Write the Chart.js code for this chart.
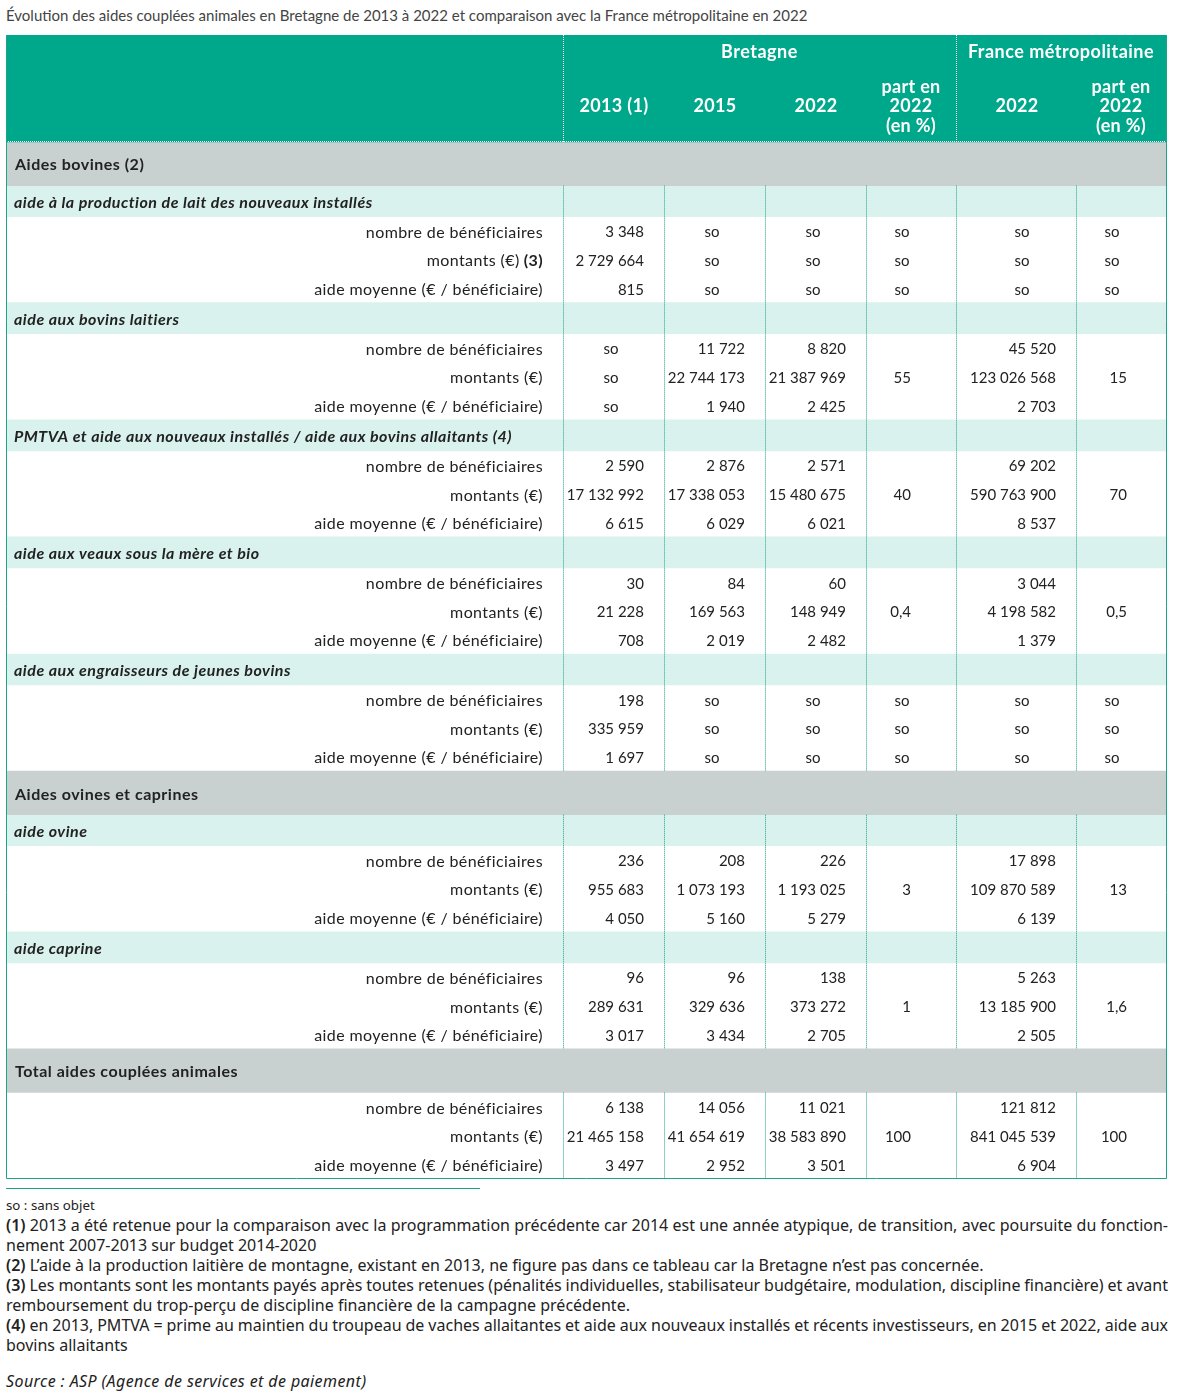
<!DOCTYPE html>
<html lang="fr">
<head>
<meta charset="utf-8">
<title>Aides couplées animales en Bretagne</title>
<script src="https://cdn.jsdelivr.net/npm/chart.js@4/dist/chart.umd.min.js"></script>
<style>
  body { margin: 0; background: #fff; width: 1183px; height: 1399px; position: relative; font-family: Lato, sans-serif; color: #222; }
  #titre { position: absolute; left: 6px; top: 5px; font-size: 15px; line-height: 20px; color: #444; white-space: nowrap; }
  #tableau { position: absolute; left: 6px; top: 35px; }
  #filet { position: absolute; left: 6px; top: 1188px; width: 474px; border-top: 1px solid #1aa58a; }
  #notes { position: absolute; left: 6px; top: 1195px; width: 1162px; font-family: "Noto Sans", sans-serif; font-size: 16px; line-height: 20px; color: #222; }
  #notes .so { font-size: 13.3px; }
  #notes .j { text-align: justify; text-align-last: justify; word-spacing: -3px; }
  #notes b { font-weight: 600; }
  #notes .source { margin-top: 16px; font-style: italic; letter-spacing: 0.4px; }
</style>
</head>
<body>
<div id="titre">Évolution des aides couplées animales en Bretagne de 2013 à 2022 et comparaison avec la France métropolitaine en 2022</div>
<canvas id="tableau" width="1161" height="1146"></canvas>
<div id="filet"></div>
<div id="notes">
  <div class="so">so : sans objet</div>
  <div class="j"><b>(1)</b> 2013 a été retenue pour la comparaison avec la programmation précédente car 2014 est une année atypique, de transition, avec poursuite du fonction-</div>
  <div>nement 2007-2013 sur budget 2014-2020</div>
  <div><b>(2)</b> L’aide à la production laitière de montagne, existant en 2013, ne figure pas dans ce tableau car la Bretagne n’est pas concernée.</div>
  <div class="j"><b>(3)</b> Les montants sont les montants payés après toutes retenues (pénalités individuelles, stabilisateur budgétaire, modulation, discipline financière) et avant</div>
  <div>remboursement du trop-perçu de discipline financière de la campagne précédente.</div>
  <div class="j"><b>(4)</b> en 2013, PMTVA = prime au maintien du troupeau de vaches allaitantes et aide aux nouveaux installés et récents investisseurs, en 2015 et 2022, aide aux</div>
  <div>bovins allaitants</div>
  <div class="source">Source : ASP (Agence de services et de paiement)</div>
</div>
<script>
// Données du tableau
const groupes = ['Bretagne', 'France métropolitaine'];
const colonnes = ['2013 (1)', '2015', '2022', 'part en\n2022\n(en %)', '2022', 'part en\n2022\n(en %)'];
const rubriques = ['Aides bovines (2)', 'Aides ovines et caprines', 'Total aides couplées animales'];
const aides = [
    'aide à la production de lait des nouveaux installés',
    'aide aux bovins laitiers',
    'PMTVA et aide aux nouveaux installés / aide aux bovins allaitants (4)',
    'aide aux veaux sous la mère et bio',
    'aide aux engraisseurs de jeunes bovins',
    'aide ovine',
    'aide caprine'
];
const mesures = ['nombre de bénéficiaires', 'montants (€)', 'aide moyenne (€ / bénéficiaire)'];

// 'so' = sans objet, null = case vide (3 lignes par aide, puis le total)
const bzh2013 = [3348, 2729664, 815, 'so', 'so', 'so', 2590, 17132992, 6615, 30, 21228, 708, 198, 335959, 1697, 236, 955683, 4050, 96, 289631, 3017, 6138, 21465158, 3497];
const bzh2015 = ['so', 'so', 'so', 11722, 22744173, 1940, 2876, 17338053, 6029, 84, 169563, 2019, 'so', 'so', 'so', 208, 1073193, 5160, 96, 329636, 3434, 14056, 41654619, 2952];
const bzh2022 = ['so', 'so', 'so', 8820, 21387969, 2425, 2571, 15480675, 6021, 60, 148949, 2482, 'so', 'so', 'so', 226, 1193025, 5279, 138, 373272, 2705, 11021, 38583890, 3501];
const bzhPart = ['so', 'so', 'so', null, 55, null, null, 40, null, null, 0.4, null, 'so', 'so', 'so', null, 3, null, null, 1, null, null, 100, null];
const fr2022 = ['so', 'so', 'so', 45520, 123026568, 2703, 69202, 590763900, 8537, 3044, 4198582, 1379, 'so', 'so', 'so', 17898, 109870589, 6139, 5263, 13185900, 2505, 121812, 841045539, 6904];
const frPart = ['so', 'so', 'so', null, 15, null, null, 70, null, null, 0.5, null, 'so', 'so', 'so', null, 13, null, null, 1.6, null, null, 100, null];

const series = [bzh2013, bzh2015, bzh2022, bzhPart, fr2022, frPart];

// Mise en page (coordonnées de la page)
const bordsColonnes = [6, 563, 664, 765, 866, 956, 1076, 1166];
const droiteNombres = [644, 745, 846, 911, 1056, 1127];
const centreSo = [611, 712, 813, 902, 1022, 1112];
const centreEntete = [614, 715, 816, 911, 1017, 1121];
const hauteurs = { entete: 107, rubrique: 43.6, aide: 31, ligne: 28.7 };
const couleurs = { entete: '#00a88b', rubrique: '#c9d1d0', aide: '#d9f2ed', trait: '#1aa58a', texte: '#222222' };
const police = 'Lato, sans-serif';
const decalageTexte = 1.5;

// Construction des lignes
const lignes = [{ type: 'entete' }];
let k = 0;
function bloc(iAide) {
    if (iAide !== null) lignes.push({ type: 'aide', texte: aides[iAide] });
    for (let m = 0; m < 3; m++) {
        lignes.push({ type: 'ligne', mesure: m, i: k, note: (k === 1) ? '(3)' : null });
        k++;
    }
}
lignes.push({ type: 'rubrique', texte: rubriques[0] });
[0, 1, 2, 3, 4].forEach(bloc);
lignes.push({ type: 'rubrique', texte: rubriques[1] });
[5, 6].forEach(bloc);
lignes.push({ type: 'rubrique', texte: rubriques[2] });
bloc(null);

let yCourant = 35;
lignes.forEach(l => {
    l.haut = yCourant;
    yCourant += hauteurs[l.type];
    l.bas = yCourant;
});

// Bandeaux de fond : barres flottantes, une par bandeau
const fonds = lignes.filter(l => l.type !== 'ligne').map(l => ({
    data: [[l.haut, l.bas]],
    backgroundColor: couleurs[l.type],
    borderWidth: 0,
    grouped: false,
    barPercentage: 1,
    categoryPercentage: 1
}));

function formater(v) {
    if (typeof v !== 'number') return v;
    if (!Number.isInteger(v)) return String(v).replace('.', ',');
    return String(v).replace(/\B(?=(\d{3})+(?!\d))/g, ' ');
}

function texte(ctx, t, x, y, font, espacement) {
    ctx.font = font;
    ctx.letterSpacing = espacement + 'px';
    ctx.fillText(t, x, y);
    const w = ctx.measureText(t).width;
    ctx.letterSpacing = '0px';
    return w;
}

const dessinTableau = {
    id: 'dessinTableau',
    afterDatasetsDraw(chart) {
        const ctx = chart.ctx;
        const X = v => chart.scales.xc.getPixelForValue(v);
        const Y = v => chart.scales.y.getPixelForValue(v);
        const entete = lignes[0];
        ctx.save();

        // traits pointillés verticaux du corps
        ctx.strokeStyle = couleurs.trait;
        ctx.lineWidth = 1;
        ctx.setLineDash([1, 1]);
        let debut = null;
        lignes.forEach((l, idx) => {
            const actif = l.type === 'aide' || l.type === 'ligne';
            if (actif && debut === null) debut = l.haut;
            const suivant = lignes[idx + 1];
            const finRun = actif && (!suivant || suivant.type === 'rubrique');
            if (finRun) {
                bordsColonnes.slice(1, 7).forEach(b => {
                    ctx.beginPath();
                    ctx.moveTo(Math.round(X(b)) + 0.5, Y(debut));
                    ctx.lineTo(Math.round(X(b)) + 0.5, Y(l.bas));
                    ctx.stroke();
                });
                debut = null;
            }
        });

        // pointillés blancs de l'en-tête
        ctx.strokeStyle = '#ffffff';
        [bordsColonnes[1], bordsColonnes[5]].forEach(b => {
            ctx.beginPath();
            ctx.moveTo(Math.round(X(b)) + 0.5, Y(entete.haut));
            ctx.lineTo(Math.round(X(b)) + 0.5, Y(entete.bas));
            ctx.stroke();
        });
        ctx.beginPath();
        ctx.moveTo(X(bordsColonnes[0]), Math.round(Y(entete.bas)) - 0.5);
        ctx.lineTo(X(bordsColonnes[7]), Math.round(Y(entete.bas)) - 0.5);
        ctx.stroke();

        // bordure extérieure
        ctx.setLineDash([]);
        ctx.strokeStyle = couleurs.trait;
        const bas = lignes[lignes.length - 1].bas;
        ctx.beginPath();
        ctx.moveTo(X(bordsColonnes[0]) + 0.5, Y(entete.haut));
        ctx.lineTo(X(bordsColonnes[0]) + 0.5, Math.round(Y(bas)) - 0.5);
        ctx.lineTo(Math.round(X(bordsColonnes[7])) + 0.5, Math.round(Y(bas)) - 0.5);
        ctx.lineTo(Math.round(X(bordsColonnes[7])) + 0.5, Y(entete.haut));
        ctx.stroke();

        // en-tête
        ctx.fillStyle = '#ffffff';
        ctx.textBaseline = 'middle';
        ctx.textAlign = 'center';
        const fEntete = 'bold 18px ' + police;
        const yGroupe = Y(entete.haut + 16 + decalageTexte);
        texte(ctx, groupes[0], (X(bordsColonnes[1]) + X(bordsColonnes[5])) / 2, yGroupe, fEntete, 0.5);
        texte(ctx, groupes[1], (X(bordsColonnes[5]) + X(bordsColonnes[7])) / 2, yGroupe, fEntete, 0.5);
        colonnes.forEach((c, i) => {
            const parts = c.split('\n');
            parts.forEach((p, j) => {
                const y = entete.haut + 70 + decalageTexte + (j - (parts.length - 1) / 2) * 19.5;
                texte(ctx, p, X(centreEntete[i]), Y(y), fEntete, 0.3);
            });
        });

        // corps
        ctx.fillStyle = couleurs.texte;
        lignes.forEach(l => {
            const yc = Y((l.haut + l.bas) / 2 + decalageTexte);
            if (l.type === 'rubrique') {
                ctx.textAlign = 'left';
                texte(ctx, l.texte, X(15), yc, 'bold 16px ' + police, 0.5);
            } else if (l.type === 'aide') {
                ctx.textAlign = 'left';
                texte(ctx, l.texte, X(14), yc, 'italic bold 16px ' + police, 0.5);
            } else if (l.type === 'ligne') {
                ctx.textAlign = 'right';
                let xd = X(543);
                if (l.note) {
                    xd -= texte(ctx, l.note, xd, yc, 'bold 16px ' + police, 0.4);
                    ctx.font = '16px ' + police;
                    xd -= ctx.measureText(' ').width;
                }
                texte(ctx, mesures[l.mesure], xd, yc, '16px ' + police, 0.4);
                ctx.font = '15px ' + police;
                series.forEach((s, c) => {
                    const v = s[l.i];
                    if (v === null) return;
                    if (v === 'so') {
                        ctx.textAlign = 'center';
                        ctx.fillText(v, X(centreSo[c]), yc);
                    } else {
                        ctx.textAlign = 'right';
                        ctx.fillText(formater(v), X(droiteNombres[c]), yc);
                    }
                });
            }
        });
        ctx.restore();
    }
};

new Chart(document.getElementById('tableau'), {
    type: 'bar',
    data: { labels: ['tableau'], datasets: fonds },
    options: {
        responsive: false,
        animation: false,
        devicePixelRatio: 1,
        events: [],
        layout: { padding: 0 },
        plugins: { legend: { display: false }, tooltip: { enabled: false } },
        scales: {
            x: { display: false },
            xc: { type: 'linear', axis: 'x', display: false, offset: false, min: 6, max: 1167 },
            y: { type: 'linear', display: false, reverse: true, min: 35, max: 1181 }
        }
    },
    plugins: [dessinTableau]
});
</script>
</body>
</html>
